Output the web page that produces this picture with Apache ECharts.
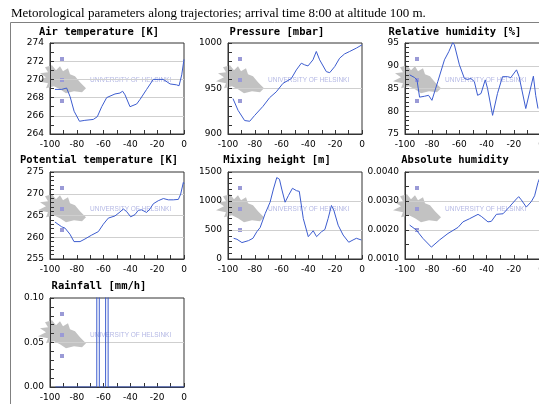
<!DOCTYPE html>
<html>
<head>
<meta charset="utf-8">
<script src="https://cdn.jsdelivr.net/npm/echarts@6/dist/echarts.min.js"></script>
<style>
  html, body { margin: 0; padding: 0; background: #fff; }
  #chart { width: 539px; height: 404px; }
</style>
</head>
<body>
<div id="chart"></div>
<script>
// [hours before arrival, value]
const airTemp = [[-96.3, 268.9], [-91.3, 268.9], [-87.6, 269.05], [-85, 268.1], [-82, 266.5], [-78, 265.4],
  [-74, 265.5], [-67.7, 265.6], [-64.7, 265.9], [-61.4, 267.0], [-57.7, 268.0], [-51.5, 268.4], [-47.8, 268.5],
  [-45.8, 268.7], [-44, 268.3], [-40.3, 267.0], [-35.3, 267.3], [-32.8, 267.8], [-27.9, 268.9], [-22.9, 270.0],
  [-19.2, 270.0], [-15.4, 270.0], [-10.4, 269.5], [-5.5, 269.4], [-3.7, 269.3], [-1.7, 270.5], [0, 272.2]]

const pressure = [[-96.3, 938.9], [-92.5, 926], [-87.6, 914.8], [-83.8, 914], [-80.1, 920.4], [-73.9, 930.4],
  [-68.9, 940], [-64, 946.3], [-59, 955.6], [-52.7, 961], [-49, 970.4], [-45.3, 977.8], [-42.8, 976],
  [-40.3, 974.8], [-36.6, 981.5], [-34.1, 990.7], [-31.6, 981.5], [-26.6, 968.5], [-24.1, 967.4], [-20.4, 974],
  [-16.7, 983.3], [-13, 988], [-9.2, 990.7], [-4.2, 994.4], [0, 998]]

const relHumidity = [[-96.6, 88.0], [-92.9, 87.4], [-91.2, 86.9], [-89.3, 83.1], [-85.6, 83.3], [-82.7, 83.5],
  [-80.2, 82.4], [-75.9, 86.5], [-71, 91.3], [-67.8, 93.1], [-64.9, 95.1], [-63.7, 94.6], [-60, 90.2],
  [-56.3, 87.2], [-53.9, 87.0], [-51.5, 87.2], [-49, 86.5], [-46.6, 83.5], [-44.1, 83.9], [-41, 86.9],
  [-39.3, 85], [-35.6, 79.1], [-34.4, 79.4], [-32, 83.9], [-28.3, 87.6], [-24.6, 87.6], [-22.2, 87.4],
  [-18, 89.1], [-16.1, 87.6], [-11.2, 80.6], [-5.6, 87.7], [-3.9, 83.5], [-2.2, 80.6]]

const potTemp = [[-96.3, 263.5], [-91.3, 262.4], [-88.8, 262.1], [-85.1, 260.7], [-82.1, 259.0], [-77.6, 259.0],
  [-73.9, 259.6], [-68.9, 260.5], [-63.9, 261.3], [-60.2, 263.0], [-56.5, 264.4], [-51.5, 264.9], [-47.8, 265.8],
  [-45.3, 266.5], [-42.8, 265.9], [-39.8, 264.7], [-36.6, 265.2], [-34.1, 266.2], [-31.6, 266.3], [-27.9, 265.7],
  [-25.4, 266.5], [-22.9, 267.7], [-19.2, 268.4], [-15.4, 268.9], [-11.7, 268.6], [-8, 268.6], [-4.2, 268.7],
  [-2.5, 269.9], [-0.5, 272.6], [0, 272.3]]

const mixHeight = [[-95.8, 357], [-93.3, 340], [-89.6, 283], [-84.7, 317], [-81.4, 357], [-78.5, 470],
  [-76, 543], [-72.3, 781], [-68.6, 979], [-66.1, 1206], [-63.6, 1404], [-61.6, 1375], [-59.9, 1206],
  [-57.4, 979], [-54.9, 1094], [-51.9, 1219], [-48.8, 1177], [-46.8, 1166], [-43.8, 696], [-40.1, 385],
  [-36.4, 487], [-33.9, 385], [-30.2, 470], [-27.7, 509], [-25.3, 696], [-22.8, 923], [-21, 838],
  [-17.8, 583], [-14.1, 413], [-9.9, 289], [-6.7, 328], [-4.2, 357], [-0.5, 328]]

const absHumidity = [[-96.6, 0.00217], [-91.7, 0.0020], [-86.8, 0.00171], [-80.6, 0.00141], [-74.5, 0.00166],
  [-68.4, 0.00188], [-61, 0.00209], [-57.4, 0.00228], [-52.5, 0.00239], [-46.3, 0.00254], [-43.9, 0.00247],
  [-39, 0.00228], [-36.5, 0.0023], [-32.8, 0.00254], [-27.9, 0.00256], [-23, 0.00281], [-18.1, 0.00307],
  [-16.4, 0.00315], [-14.5, 0.00304], [-10.8, 0.00279], [-7.1, 0.00298], [-4.7, 0.00318], [-2.2, 0.00364],
  [0, 0.0039]]

const rainfall = [[-96, 0], [-65.1, 0], [-64.2, 3], [-63.2, 0], [-58.5, 0], [-57.6, 3], [-56.6, 0], [0, 0]]

const titles = ['Air temperature [K]', 'Pressure [mbar]', 'Relative humidity [%]',
  'Potential temperature [K]', 'Mixing height [m]', 'Absolute humidity', 'Rainfall [mm/h]']
const seriesData = [airTemp, pressure, relHumidity, potTemp, mixHeight, absHumidity, rainfall]
// [min, max, interval, minor splits, decimals]
const yScales = [[264, 274, 2, 2, 0], [900, 1000, 50, 5, 0], [75, 95, 5, 5, 0],
  [255, 275, 5, 5, 0], [0, 1500, 500, 5, 0], [0.001, 0.004, 0.001, 2, 4], [0, 0.1, 0.05, 5, 2]]
const xTicks = { min: -100, max: 0, interval: 20 }

// plot boxes: left, top, width, height
const boxes = [[50, 43, 134, 91], [228, 43, 134, 91], [405, 43, 136, 91],
  [50, 172, 134, 87], [228, 172, 134, 87], [405, 172, 136, 87], [50, 298, 134, 89]]
const titleCenters = [[99, 27], [277, 27], [455, 27], [99, 155], [277, 155], [455, 155], [99, 281]]

const lineColor = '#3c5ccf'
const axisColor = '#333'
const labelFont = 'DejaVu Sans'

const chart = echarts.init(document.getElementById('chart'))

// university logo outline, relative to the middle marker
const flame = [[2, -14.7], [6, -9.7], [10, -13.7], [13, -8.7], [18, -11.7], [20, -5.7], [25, -3.7], [30, 2.3],
  [36, 8.3], [32, 12.3], [24, 11.3], [16, 13.3], [10, 9.3], [4, 6.3], [-4, 8.3], [-2, 3.3], [-12, 1.3],
  [-4, -2.7], [-10, -6.7], [-2, -7.7], [-5, -12.7]]

const watermark = ([l, t]) => {
  const cy = t + 37
  const els = [{
    type: 'polygon', z: 0, silent: true,
    shape: { points: flame.map(p => [l + p[0], cy + p[1]]) },
    style: { fill: '#c2c2c2' }
  }, {
    type: 'text', z: 0, silent: true, x: l + 40, y: cy,
    style: { text: 'UNIVERSITY OF HELSINKI', fill: '#b4b8e4', font: '6.5px "Liberation Sans"', verticalAlign: 'middle' }
  }]
  ;[16, 37, 58].forEach(dy => els.push({
    type: 'rect', z: 0, silent: true,
    shape: { x: l + 10, y: t + dy - 2, width: 4, height: 4 },
    style: { fill: '#9a9ad6' }
  }))
  return els
}

const grid = boxes.map(b => ({
  left: b[0], top: b[1], width: b[2], height: b[3],
  outerBoundsMode: 'none', containLabel: false,
  show: true, borderColor: axisColor, borderWidth: 1
}))

const xAxis = boxes.map((b, i) => ({
  type: 'value', gridIndex: i, ...xTicks,
  axisLine: { show: true, onZero: false, lineStyle: { color: axisColor } },
  axisTick: { show: true, inside: true, length: 4, lineStyle: { color: axisColor } },
  minorTick: { show: true, splitNumber: 2, length: 4, lineStyle: { color: axisColor } },
  axisLabel: { fontSize: 9, color: '#000', margin: 6, fontFamily: labelFont, showMinLabel: true, showMaxLabel: true },
  splitLine: { show: false }
}))

const yAxis = yScales.map((s, i) => ({
  type: 'value', gridIndex: i, min: s[0], max: s[1], interval: s[2],
  axisLine: { show: true, onZero: false, lineStyle: { color: axisColor } },
  axisTick: { show: true, inside: true, length: 4, lineStyle: { color: axisColor } },
  minorTick: { show: true, splitNumber: s[3], length: 4, lineStyle: { color: axisColor } },
  axisLabel: {
    fontSize: 9, color: '#000', margin: 6, fontFamily: labelFont,
    showMinLabel: true, showMaxLabel: true,
    formatter: v => v.toFixed(s[4])
  },
  splitLine: { show: true, showMinLine: false, showMaxLine: false, lineStyle: { color: '#cfcfcf', width: 1 } }
}))

const series = seriesData.map((d, i) => ({
  type: 'line', xAxisIndex: i, yAxisIndex: i, data: d,
  showSymbol: false, symbol: 'none', clip: true, z: 5,
  lineStyle: { color: lineColor, width: 1 }
}))

const title = [{
  text: 'Metorological parameters along trajectories; arrival time 8:00 at altitude 100 m.',
  left: 11, top: 7, padding: 0,
  textStyle: { fontFamily: 'Liberation Serif', fontSize: 13, fontWeight: 'normal', color: '#000' }
}].concat(titles.map((t, i) => ({
  text: t, left: titleCenters[i][0], top: titleCenters[i][1], padding: 0, textAlign: 'center',
  textStyle: { fontFamily: 'DejaVu Sans Mono', fontSize: 10.5, fontWeight: 'bold', color: '#000' }
})))

const graphic = [{
  type: 'polyline', z: 0, silent: true,
  shape: { points: [[10.5, 404], [10.5, 22.5], [539, 22.5]] },
  style: { stroke: '#808080', lineWidth: 1, fill: null }
}].concat(...boxes.map(watermark))

chart.setOption({
  animation: false,
  title,
  grid,
  xAxis,
  yAxis,
  series,
  graphic
})
</script>
</body>
</html>
